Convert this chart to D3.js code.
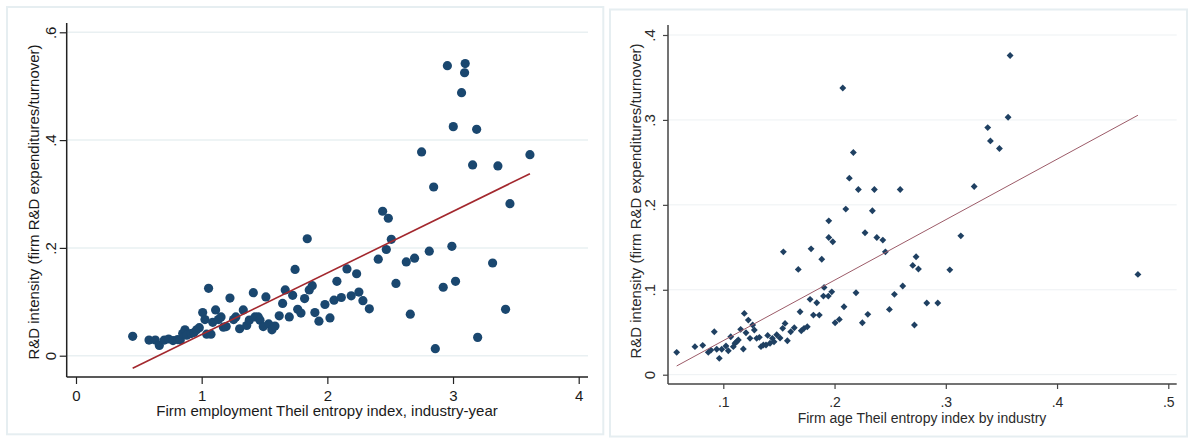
<!DOCTYPE html>
<html>
<head>
<meta charset="utf-8">
<script src="https://cdn.jsdelivr.net/npm/d3@7"></script>
<style>
  html, body { margin: 0; padding: 0; background: #ffffff; }
  svg { display: block; }
  text { font-family: "Liberation Sans", Arial, sans-serif; }
</style>
</head>
<body>
<svg id="chart" width="1189" height="439"></svg>
<script>
// Panel A: firm employment Theil entropy (x) vs R&D intensity (y), industry-year
const empTheil = [0.451,0.581,0.631,0.663,0.703,0.737,0.772,0.809,0.830,0.849,0.867,0.881,0.915,0.939,0.960,0.981,1.008,1.026,1.055,1.040,1.074,1.088,1.111,1.133,1.154,1.173,1.195,1.225,1.254,1.272,1.302,1.331,1.358,1.379,1.411,1.424,1.450,1.464,1.490,1.511,1.533,1.559,1.583,1.617,1.644,1.665,1.697,1.724,1.743,1.764,1.790,1.819,1.840,1.856,1.880,1.901,1.933,1.981,2.021,2.053,2.076,2.111,2.156,2.190,2.233,2.251,2.283,2.334,2.405,2.440,2.469,2.485,2.509,2.546,2.628,2.660,2.694,2.750,2.811,2.846,2.859,2.922,2.955,2.991,3.002,3.020,3.068,3.092,3.097,3.156,3.188,3.196,3.315,3.357,3.418,3.453,3.612];
const empRD    = [0.036,0.029,0.029,0.019,0.029,0.031,0.028,0.030,0.029,0.041,0.048,0.038,0.041,0.043,0.048,0.052,0.080,0.067,0.125,0.040,0.040,0.062,0.085,0.067,0.072,0.053,0.054,0.107,0.067,0.072,0.050,0.085,0.056,0.066,0.117,0.072,0.072,0.066,0.054,0.109,0.059,0.048,0.055,0.074,0.097,0.122,0.072,0.112,0.160,0.086,0.079,0.106,0.217,0.122,0.130,0.080,0.064,0.095,0.070,0.103,0.138,0.108,0.161,0.111,0.152,0.118,0.102,0.087,0.179,0.268,0.197,0.255,0.216,0.134,0.174,0.077,0.181,0.378,0.194,0.313,0.013,0.127,0.538,0.203,0.425,0.138,0.488,0.525,0.542,0.354,0.420,0.034,0.172,0.352,0.086,0.282,0.373];
const empFit = { intercept: -0.0749, slope: 0.1142 };
const empXTicks = [0, 1, 2, 3, 4];
const empXTickLabels = ["0", "1", "2", "3", "4"];
const empYTicks = [0, 0.2, 0.4, 0.6];
const empYTickLabels = ["0", ".2", ".4", ".6"];

// Panel B: firm age Theil entropy (x) vs R&D intensity (y), by industry
const ageTheil = [0.0581,0.0745,0.0815,0.0919,0.0865,0.0889,0.0941,0.0964,0.0986,0.1024,0.1045,0.1067,0.1090,0.1105,0.1120,0.1135,0.1156,0.1180,0.1189,0.1204,0.1225,0.1240,0.1264,0.1279,0.1300,0.1324,0.1339,0.1360,0.1384,0.1399,0.1420,0.1441,0.1456,0.1480,0.1510,0.1534,0.1540,0.1555,0.1576,0.1606,0.1638,0.1674,0.1690,0.1701,0.1726,0.1755,0.1780,0.1789,0.1810,0.1840,0.1863,0.1885,0.1900,0.1906,0.1944,0.1948,0.1948,0.1975,0.1984,0.2005,0.2043,0.2074,0.2085,0.2101,0.2133,0.2169,0.2193,0.2214,0.2250,0.2274,0.2299,0.2340,0.2358,0.2380,0.2434,0.2457,0.2493,0.2538,0.2590,0.2613,0.2703,0.2718,0.2733,0.2754,0.2829,0.2928,0.3036,0.3135,0.3255,0.3377,0.3401,0.3482,0.3560,0.3578,0.4727];
const ageRD    = [0.0263,0.0330,0.0346,0.0506,0.0263,0.0290,0.0300,0.0193,0.0300,0.0338,0.0282,0.0447,0.0330,0.0370,0.0388,0.0408,0.0534,0.0302,0.0722,0.0494,0.0643,0.0428,0.0585,0.0526,0.0428,0.0440,0.0330,0.0350,0.0350,0.0463,0.0370,0.0428,0.0388,0.0470,0.0432,0.0546,0.1447,0.0604,0.0400,0.0506,0.0553,0.1240,0.0741,0.0518,0.0546,0.0565,0.0887,0.1482,0.0702,0.0847,0.0702,0.1360,0.0926,0.1028,0.0926,0.1812,0.1616,0.0976,0.1565,0.0612,0.0651,0.3376,0.0800,0.1950,0.2314,0.2616,0.0965,0.2181,0.0612,0.1671,0.0711,0.1930,0.2181,0.1616,0.1585,0.1447,0.0769,0.0946,0.2181,0.1044,0.1287,0.0585,0.1389,0.1244,0.0844,0.0844,0.1235,0.1635,0.2216,0.2910,0.2753,0.2663,0.3032,0.3758,0.1181];
const ageFit = { intercept: -0.0311, slope: 0.7121 };
const ageXTicks = [0.1, 0.2, 0.3, 0.4, 0.5];
const ageXTickLabels = [".1", ".2", ".3", ".4", ".5"];
const ageYTicks = [0, 0.1, 0.2, 0.3, 0.4];
const ageYTickLabels = ["0", ".1", ".2", ".3", ".4"];

const yTitle = "R&D intensity (firm R&D expenditures/turnover)";

const svg = d3.select("#chart");

function drawPanel(cfg) {
  const g = svg.append("g");
  const x = d3.scaleLinear().domain(cfg.xDomain).range(cfg.xRange);
  const y = d3.scaleLinear().domain(cfg.yDomain).range(cfg.yRange);
  const pa = cfg.plotArea; // {left, right, top, bottom}

  // outer frame
  g.append("rect")
    .attr("x", cfg.frame[0]).attr("y", cfg.frame[1])
    .attr("width", cfg.frame[2]).attr("height", cfg.frame[3])
    .attr("fill", "none").attr("stroke", cfg.frameColor).attr("stroke-width", 2);

  // horizontal grid lines
  g.append("g").selectAll("line").data(cfg.yTicks).join("line")
    .attr("x1", pa.left).attr("x2", pa.right)
    .attr("y1", d => y(d)).attr("y2", d => y(d))
    .attr("stroke", cfg.gridColor).attr("stroke-width", cfg.gridWidth);

  // y axis with rotated tick labels
  const yAxis = d3.axisLeft(y).tickValues(cfg.yTicks)
    .tickFormat((d, i) => cfg.yTickLabels[i]).tickSize(cfg.tickLen).tickPadding(0);
  const ya = g.append("g").attr("transform", `translate(${pa.left},0)`).call(yAxis);
  ya.select(".domain").remove();
  ya.selectAll(".tick line").attr("stroke", cfg.axisColor).attr("stroke-width", 1.2);
  ya.selectAll(".tick text")
    .attr("x", null).attr("dy", null)
    .attr("transform", `translate(${cfg.yLabelX - pa.left},0) rotate(-90)`)
    .attr("text-anchor", "middle").attr("dominant-baseline", "central")
    .attr("font-size", cfg.fontSize).attr("fill", cfg.textColor);

  // x axis
  const xAxis = d3.axisBottom(x).tickValues(cfg.xTicks)
    .tickFormat((d, i) => cfg.xTickLabels[i]).tickSize(cfg.tickLen).tickPadding(0);
  const xa = g.append("g").attr("transform", `translate(0,${pa.bottom})`).call(xAxis);
  xa.select(".domain").remove();
  xa.selectAll(".tick line").attr("stroke", cfg.axisColor).attr("stroke-width", 1.2);
  xa.selectAll(".tick text")
    .attr("y", cfg.xLabelY - pa.bottom).attr("dy", null)
    .attr("dominant-baseline", "central")
    .attr("font-size", cfg.xTickSize).attr("fill", cfg.textColor);

  // axis lines
  g.append("line").attr("x1", pa.left).attr("x2", pa.left)
    .attr("y1", pa.top).attr("y2", pa.bottom)
    .attr("stroke", cfg.axisColor).attr("stroke-width", 1.5);
  g.append("line").attr("x1", pa.left).attr("x2", pa.right)
    .attr("y1", pa.bottom).attr("y2", pa.bottom)
    .attr("stroke", cfg.axisColor).attr("stroke-width", 1.5);

  // markers
  const pts = cfg.xs.map((v, i) => [v, cfg.ys[i]]);
  if (cfg.marker === "circle") {
    g.append("g").selectAll("circle").data(pts).join("circle")
      .attr("cx", d => x(d[0])).attr("cy", d => y(d[1]))
      .attr("r", cfg.markerSize).attr("fill", cfg.markerColor);
  } else {
    const sym = d3.symbol().type(d3.symbolDiamond2).size(cfg.markerSize);
    g.append("g").selectAll("path").data(pts).join("path")
      .attr("d", sym)
      .attr("transform", d => `translate(${x(d[0])},${y(d[1])})`)
      .attr("fill", cfg.markerColor);
  }

  // linear fit over the observed x range
  const xr = d3.extent(cfg.xs);
  const line = d3.line().x(d => x(d)).y(d => y(cfg.fit.intercept + cfg.fit.slope * d));
  g.append("path").datum(xr).attr("d", line)
    .attr("fill", "none").attr("stroke", cfg.fitColor).attr("stroke-width", cfg.fitWidth);

  // axis titles
  g.append("text")
    .attr("transform", `translate(${cfg.yTitleX},${cfg.yTitleY}) rotate(-90)`)
    .attr("text-anchor", "middle").attr("dominant-baseline", "central")
    .attr("font-size", cfg.fontSize).attr("fill", cfg.textColor)
    .text(yTitle);
  g.append("text")
    .attr("x", cfg.xTitleX).attr("y", cfg.xTitleY)
    .attr("text-anchor", "middle").attr("dominant-baseline", "central")
    .attr("font-size", cfg.xTitleSize).attr("fill", cfg.textColor)
    .text(cfg.xTitle);
}

drawPanel({
  xs: empTheil, ys: empRD, fit: empFit,
  xDomain: [0, 4], xRange: [76, 578.7],
  yDomain: [0, 0.6], yRange: [355.7, 32.3],
  plotArea: { left: 66.7, right: 588, top: 23, bottom: 377 },
  frame: [7, 7, 596.3, 427.3], frameColor: "#e6eef1",
  xTicks: empXTicks, xTickLabels: empXTickLabels,
  yTicks: empYTicks, yTickLabels: empYTickLabels,
  tickLen: 7, yLabelX: 51, xLabelY: 395.5,
  gridColor: "#e9f0f2", gridWidth: 1.5,
  axisColor: "#222222", textColor: "#1a1a1a", fontSize: 15, xTickSize: 15, xTitleSize: 15,
  marker: "circle", markerSize: 4.6, markerColor: "#1a476f",
  fitColor: "#a3282e", fitWidth: 1.6,
  yTitleX: 33, yTitleY: 202, xTitleX: 327, xTitleY: 410.5,
  xTitle: "Firm employment Theil entropy index, industry-year"
});

drawPanel({
  xs: ageTheil, ys: ageRD, fit: ageFit,
  xDomain: [0.1, 0.5], xRange: [723.3, 1168.3],
  yDomain: [0, 0.4], yRange: [374.7, 35],
  plotArea: { left: 668, right: 1176.7, top: 25, bottom: 384 },
  frame: [610, 9.5, 577, 427], frameColor: "#e6eef1",
  xTicks: ageXTicks, xTickLabels: ageXTickLabels,
  yTicks: ageYTicks, yTickLabels: ageYTickLabels,
  tickLen: 5, yLabelX: 649, xLabelY: 401.5,
  gridColor: "#edf1f3", gridWidth: 1,
  axisColor: "#444444", textColor: "#2a2a2a", fontSize: 15, xTickSize: 14, xTitleSize: 14,
  marker: "diamond", markerSize: 30, markerColor: "#1f4062",
  fitColor: "#9c5b68", fitWidth: 1,
  yTitleX: 635, yTitleY: 201, xTitleX: 922, xTitleY: 418,
  xTitle: "Firm age Theil entropy index by industry"
});
</script>
</body>
</html>
